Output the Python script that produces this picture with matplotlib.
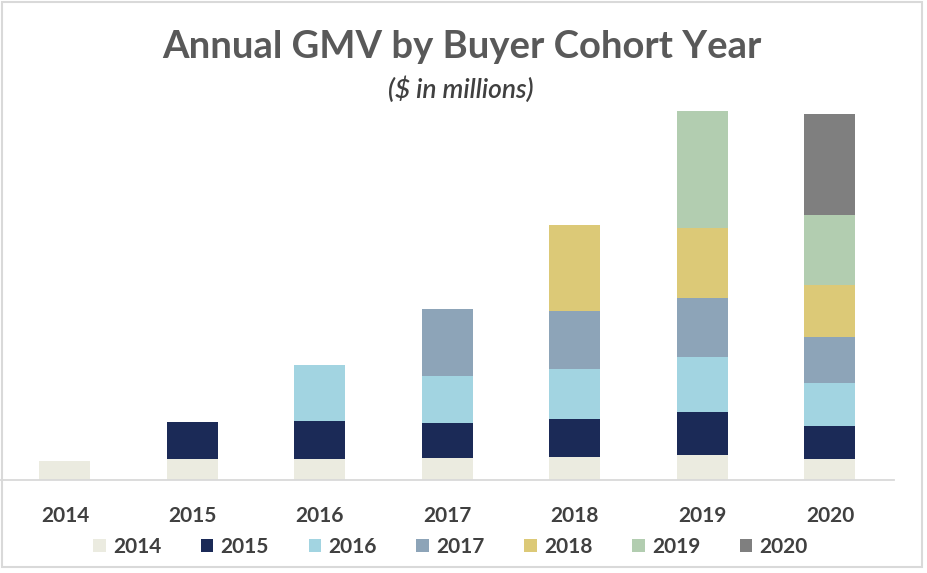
import numpy as np
import matplotlib.pyplot as plt
from matplotlib.patches import Patch, Rectangle

plt.rcParams['font.family'] = ['Lato', 'DejaVu Sans']

years = ['2014', '2015', '2016', '2017', '2018', '2019', '2020']
cohorts = ['2014', '2015', '2016', '2017', '2018', '2019', '2020']

# GMV per cohort (rows) for each year (columns)
gmv = {
    '2014': [18.5, 20.5, 20.5, 22.0, 23.0, 25.0, 20.5],
    '2015': [0,    37.5, 38.5, 35.0, 38.0, 42.5, 33.5],
    '2016': [0,    0,    56.0, 47.0, 49.5, 55.5, 42.5],
    '2017': [0,    0,    0,    67.0, 58.0, 59.0, 46.0],
    '2018': [0,    0,    0,    0,    86.0, 70.0, 52.5],
    '2019': [0,    0,    0,    0,    0,   116.5, 69.5],
    '2020': [0,    0,    0,    0,    0,    0,   101.0],
}

colors = ['#ebebe0', '#1b2a57', '#a2d4e1', '#8da4b8', '#dcc977', '#b2cdb0', '#7f7f7f']

W, H = 928, 573
fig = plt.figure(figsize=(W / 100, H / 100), dpi=100)

# plot area in pixels: x 1.25..893.75, baseline at 479.5, top at 100
ax = fig.add_axes([1.25 / W, (H - 479.5) / H, 892.5 / W, 379.5 / H])
x = np.arange(len(years))
bottom = np.zeros(len(years))
for c, col in zip(cohorts, colors):
    vals = np.array(gmv[c])
    ax.bar(x, vals, 0.4, bottom=bottom, color=col, linewidth=0)
    bottom += vals

ax.set_xlim(-0.5, 6.5)
ax.set_ylim(0, 379.5)
for s in ['top', 'right', 'left']:
    ax.spines[s].set_visible(False)
ax.spines['bottom'].set_color('#d9d9d9')
ax.spines['bottom'].set_linewidth(1.3)
ax.set_yticks([])
ax.set_xticks(x)
ax.set_xticklabels(years, fontsize=15, fontweight='bold', color='#404040')
ax.tick_params(axis='x', length=0, pad=19)

fig.text(0.498, 1 - 47 / H, 'Annual GMV by Buyer Cohort Year', ha='center', va='center',
         fontsize=27.5, fontweight='bold', color='#595959')
fig.text(0.497, 1 - 90 / H, '($ in millions)', ha='center', va='center',
         fontsize=19, style='italic', fontweight='semibold', color='#404040')

handles = [Patch(facecolor=col, edgecolor='none') for col in colors]
leg = fig.legend(handles, cohorts, loc='center', bbox_to_anchor=(450.5 / W, 1 - 547 / H),
                 ncol=7, frameon=False, fontsize=15, handlelength=0.6, handleheight=0.6,
                 handletextpad=0.35, columnspacing=1.9, borderpad=0)
for t in leg.get_texts():
    t.set_color('#404040')
    t.set_fontweight('bold')

# outer chart border
fig.patches.append(Rectangle((2 / W, 6 / H), 920 / W, 565 / H, transform=fig.transFigure,
                             fill=False, edgecolor='#d9d9d9', linewidth=1.5))

fig.savefig('out.png', dpi=100)
